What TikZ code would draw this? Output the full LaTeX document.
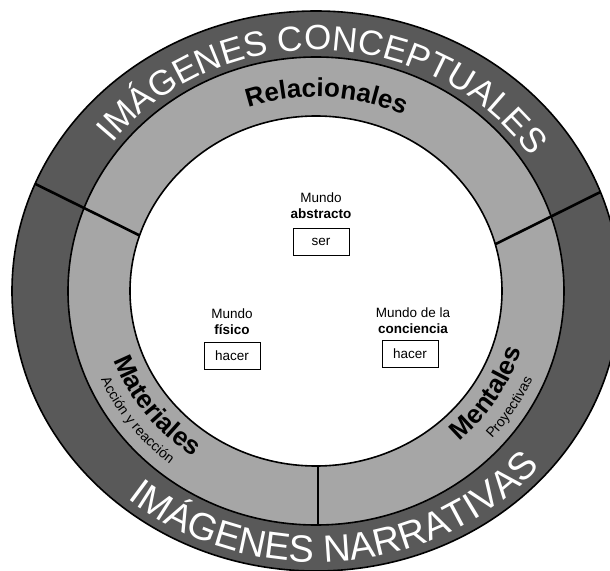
\documentclass[tikz,border=0pt]{standalone}
\usepackage{fontspec}
\setmainfont{Liberation Sans}
\usetikzlibrary{decorations.text,positioning}
\definecolor{ringdark}{RGB}{89,89,89}
\definecolor{ringlight}{RGB}{166,166,166}
\newcommand\capsfont{\fontsize{35}{41}\selectfont}
\newcommand\narrfont{\fontsize{38}{44}\selectfont}
\newcommand\kindfont{\fontsize{26}{30}\selectfont\bfseries}
\newcommand\notefont{\fontsize{14}{16}\selectfont}
\newcommand\worldfont{\fontsize{13.5}{16.5}\selectfont}
\begin{document}
\begin{tikzpicture}[x=1pt,y=1pt,
	border/.style={line width=1.6pt},
	divider/.style={line width=2.6pt},
	verb/.style={draw,line width=0.8pt,minimum width=56pt,minimum height=27pt,inner sep=0pt,font=\worldfont},
	world/.style={align=center,inner sep=0pt,font=\worldfont},
	curved/.style={decorate,decoration={text along path,text align=center,#1}}]
	\clip (-316,-279) rectangle (294,291);
	\draw[border,fill=ringdark] (0,0) ellipse[x radius=304,y radius=280];
	\draw[border,fill=ringlight] (0,0) ellipse[x radius=248,y radius=234];
	\draw[border,fill=white] (0,0) ellipse[x radius=186,y radius=175];
	\coordinate (left-out) at (157.5:304 and 280);
	\coordinate (left-in) at (161.5:186 and 175);
	\coordinate (right-out) at (20.7:304 and 280);
	\coordinate (right-in) at (15.5:186 and 175);
	\coordinate (low-mid) at (2,-234);
	\coordinate (low-in) at (2,-175);
	\draw[divider] (left-out) -- (left-in);
	\draw[divider] (right-out) -- (right-in);
	\draw[divider] (low-in) -- (low-mid);
	\path[curved={text color=white,text={|\capsfont|IMÁGENES CONCEPTUALES}}]
		(148:258 and 241) arc[start angle=148,end angle=28,x radius=258,y radius=241];
	\path[curved={text color=white,text={|\narrfont|IMÁGENES NARRATIVAS}}]
		(215:294 and 271) arc[start angle=215,end angle=335,x radius=294,y radius=271];
	\path[curved={text={|\kindfont|Relacionales}}]
		(127:206 and 194) arc[start angle=127,end angle=47,x radius=206,y radius=194];
	\path[curved={text={|\kindfont|Materiales}}]
		(177:215 and 202) arc[start angle=177,end angle=257,x radius=215,y radius=202];
	\path[curved={text={|\notefont|Acción y reacción}}]
		(177:235 and 221) arc[start angle=177,end angle=257,x radius=235,y radius=221];
	\path[curved={text={|\kindfont|Mentales}}]
		(288:215 and 202) arc[start angle=288,end angle=368,x radius=215,y radius=202];
	\path[curved={text={|\notefont|Proyectivas}}]
		(288:236 and 222) arc[start angle=288,end angle=368,x radius=236,y radius=222];
	\node[verb] (ser) at (5,49) {ser};
	\node[world,above=9pt of ser] (abstracto) {Mundo\\\textbf{abstracto}};
	\node[verb] (fisico-verb) at (-84,-65) {hacer};
	\node[world,above=7pt of fisico-verb] (fisico) {Mundo\\\textbf{físico}};
	\node[verb] (mente-verb) at (94,-63) {hacer};
	\node[world,above=6pt of mente-verb,xshift=3pt] (mente) {Mundo de la\\\textbf{conciencia}};
\end{tikzpicture}
\end{document}
